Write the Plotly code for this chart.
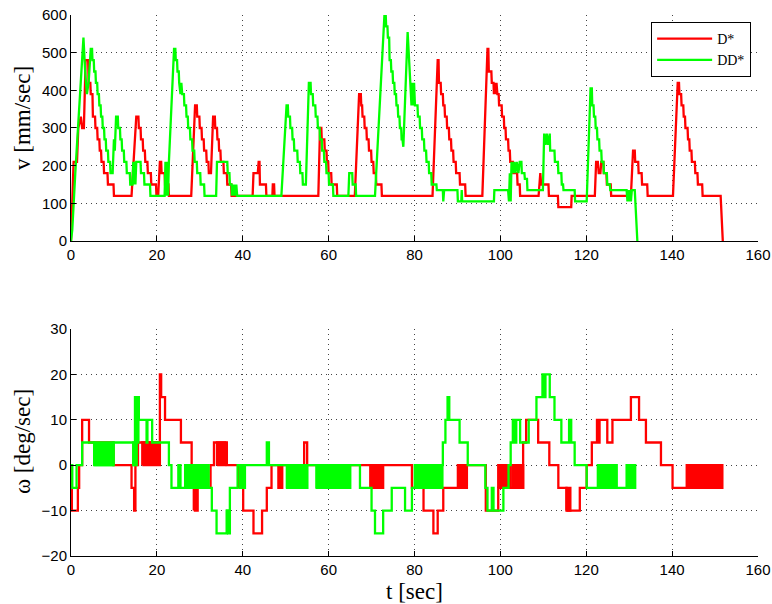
import plotly.graph_objects as go

# ---------------- data ----------------
X_TICKS = [0, 20, 40, 60, 80, 100, 120, 140, 160]
V_TICKS = [0, 100, 200, 300, 400, 500, 600]
W_TICKS = [-20, -10, 0, 10, 20, 30]

# v [mm/sec] for D*  (t, v)
D_SPEED = [
    (0, 0), (0.6, 210), (1.4, 210), (1.7, 300), (2.3, 330), (2.6, 300), (3.0, 300), (3.4, 480), (4.0, 480),
    (4.1, 420), (4.5, 420), (4.6, 390), (5.0, 390), (5.1, 330), (5.6, 330), (5.7, 300), (6.1, 300), (6.2, 270),
    (6.6, 270), (6.7, 240), (7.0, 240), (7.1, 210), (7.6, 210), (7.7, 180), (8.5, 180), (8.6, 150), (9.9, 150),
    (10.0, 120), (14.1, 120), (15.2, 330), (15.7, 330), (15.8, 300), (16.2, 300), (16.3, 270), (16.7, 270),
    (16.8, 240), (17.2, 240), (17.3, 210), (17.8, 210), (17.9, 180), (18.6, 180), (18.7, 150), (19.8, 150),
    (19.9, 120), (20.3, 120), (20.7, 210), (21.0, 210), (21.1, 180), (21.8, 180), (21.9, 150), (22.7, 150),
    (22.8, 120), (28.0, 120), (28.9, 360), (29.3, 360), (29.4, 330), (29.9, 330), (30.0, 300), (30.4, 300),
    (30.5, 270), (30.9, 270), (31.0, 240), (31.5, 240), (31.6, 210), (32.0, 210), (32.1, 180), (32.6, 180),
    (33.1, 330), (33.5, 330), (33.6, 300), (34.0, 300), (34.1, 270), (34.4, 270), (34.5, 240), (34.8, 240),
    (34.9, 210), (35.5, 210), (35.6, 180), (36.3, 180), (36.4, 150), (37.3, 150), (37.4, 120),
    (42.3, 120), (42.5, 180), (43.5, 180), (43.7, 210), (43.9, 210), (44.0, 150), (45.4, 150), (45.5, 120),
    (46.9, 120), (47.0, 150), (47.3, 150), (47.4, 120),
    (57.6, 120), (58.0, 300), (58.3, 300), (58.4, 270), (59.0, 270), (59.1, 240), (59.5, 240), (59.6, 210),
    (59.9, 210), (60.0, 180), (60.6, 180), (60.7, 150), (61.9, 150), (62.0, 120),
    (66.1, 120), (67.1, 390), (67.5, 390), (67.6, 360), (67.8, 360), (67.9, 330), (68.3, 330), (68.4, 300),
    (68.8, 300), (68.9, 270), (69.3, 270), (69.4, 240), (69.9, 240), (70.0, 210), (70.4, 210), (70.5, 180),
    (71.0, 180), (71.1, 150), (72.3, 150), (72.4, 120),
    (84.2, 120), (85.4, 480), (85.6, 480), (85.7, 420), (86.1, 420), (86.2, 390), (86.6, 390), (86.7, 360),
    (87.0, 360), (87.1, 330), (87.5, 330), (87.6, 300), (88.0, 300), (88.1, 270), (88.5, 270), (88.6, 240),
    (89.0, 240), (89.1, 210), (89.6, 210), (89.7, 180), (90.5, 180), (90.6, 150), (91.8, 150), (91.9, 120),
    (95.8, 120), (97.0, 510), (97.2, 510), (97.3, 450), (97.9, 450), (98.0, 420), (98.4, 420), (98.5, 390),
    (98.7, 420), (98.9, 390), (99.1, 420), (99.3, 390), (99.6, 390), (99.7, 360), (100.3, 360), (100.4, 330),
    (100.8, 330), (100.9, 300), (101.2, 300), (101.3, 270), (101.8, 270), (101.9, 240), (102.2, 240),
    (102.3, 210), (102.9, 210), (103.0, 180), (103.9, 180), (104.0, 150), (104.5, 150), (104.6, 120),
    (108.9, 120), (109.1, 150), (109.3, 180), (109.5, 150), (111.2, 150), (111.3, 120), (113.4, 120),
    (113.5, 90), (116.5, 90), (116.6, 120),
    (122.0, 120), (122.3, 210), (122.7, 210), (122.9, 180), (123.3, 180), (123.5, 210), (124.0, 210),
    (124.1, 180), (124.7, 180), (124.8, 150), (125.7, 150), (125.8, 120),
    (130.4, 120), (130.9, 240), (131.3, 240), (131.4, 210), (132.1, 210), (132.2, 180), (132.9, 180),
    (133.0, 150), (134.2, 150), (134.3, 120),
    (140.2, 120), (141.3, 420), (141.6, 420), (141.7, 390), (142.1, 390), (142.2, 360), (142.6, 360),
    (142.7, 330), (143.0, 330), (143.1, 300), (143.6, 300), (143.7, 270), (144.0, 270), (144.1, 240),
    (144.5, 240), (144.6, 210), (145.3, 210), (145.4, 180), (145.9, 180), (146.0, 150), (147.0, 150),
    (147.1, 120), (151.3, 120), (151.8, 0),
]

# v [mm/sec] for DD*  (t, v)
DD_SPEED = [
    (0, 0), (0.3, 30), (1.0, 180), (1.5, 270), (2.0, 360), (2.5, 450), (2.9, 540), (3.3, 450), (3.7, 390),
    (4.1, 420), (4.6, 510), (4.9, 510), (5.0, 480), (5.3, 480), (5.4, 450), (5.7, 450), (5.8, 420), (6.1, 420),
    (6.2, 390), (6.5, 390), (6.6, 360), (6.9, 360), (7.0, 330), (7.3, 330), (7.4, 300), (7.7, 300), (7.8, 270),
    (8.1, 270), (8.2, 240), (8.6, 240), (8.7, 210), (9.1, 210), (9.2, 180), (9.7, 180), (10.0, 270), (10.2, 240),
    (10.5, 330), (10.9, 330), (11.0, 300), (11.4, 300), (11.5, 270), (11.8, 270), (11.9, 240), (12.3, 240),
    (12.4, 210), (12.9, 210), (13.0, 180), (13.7, 180), (13.8, 150), (14.3, 150), (14.5, 210), (14.7, 150),
    (14.9, 210), (15.0, 150), (15.2, 210), (16.2, 210), (16.3, 180), (17.0, 180), (17.1, 150), (18.4, 150),
    (18.5, 120), (21.8, 120), (22.0, 210), (22.2, 120), (22.4, 210), (22.6, 120), (22.8, 210), (24.0, 510),
    (24.3, 510), (24.4, 480), (24.7, 480), (24.8, 450), (25.1, 450), (25.2, 420), (25.5, 390), (25.7, 420),
    (25.9, 390), (26.3, 390), (26.4, 360), (26.8, 360), (26.9, 330), (27.2, 330), (27.3, 300), (27.7, 300),
    (27.8, 270), (28.2, 270), (28.3, 240), (28.7, 240), (28.8, 210), (29.3, 210), (29.4, 180), (30.1, 180),
    (30.2, 150), (31.0, 150), (31.1, 120), (33.8, 120), (34.0, 210), (36.4, 210), (36.5, 180), (36.9, 180),
    (37.0, 150), (37.4, 150), (37.5, 120), (37.7, 150), (37.9, 120), (38.1, 150), (38.3, 120), (38.5, 150),
    (38.7, 120), (49.0, 120), (50.2, 360), (50.5, 360), (50.6, 330), (51.0, 330), (51.1, 300), (51.5, 300),
    (51.6, 270), (51.9, 270), (52.0, 240), (52.7, 240), (52.8, 210), (53.3, 210), (53.4, 180), (53.9, 180),
    (54.0, 150), (54.7, 150), (55.4, 420), (55.8, 420), (55.9, 390), (56.3, 390), (56.4, 360), (56.9, 360),
    (57.0, 330), (57.4, 330), (57.5, 300), (57.9, 300), (58.0, 270), (58.4, 270), (58.5, 240), (58.9, 240),
    (59.0, 210), (59.4, 210), (59.5, 180), (60.0, 180), (60.1, 150), (61.0, 150), (61.1, 120), (64.6, 120),
    (64.8, 180), (65.5, 180), (65.6, 150), (66.3, 150), (66.4, 120), (70.8, 120), (73.0, 600), (73.3, 600),
    (73.4, 570), (73.7, 570), (73.8, 540), (74.1, 540), (74.2, 480), (74.5, 480), (74.6, 450), (74.9, 450),
    (75.0, 420), (75.3, 420), (75.4, 390), (75.7, 390), (75.8, 360), (76.1, 360), (76.2, 330), (76.5, 330),
    (76.6, 300), (76.9, 300), (77.0, 270), (77.2, 270), (77.4, 250), (78.4, 555), (78.6, 510), (78.9, 480),
    (79.1, 420), (79.3, 360), (79.5, 420), (79.7, 360), (79.9, 420), (80.1, 360), (80.7, 360), (80.8, 330),
    (81.2, 330), (81.3, 300), (81.7, 300), (81.8, 270), (82.2, 270), (82.3, 240), (82.7, 240), (82.8, 210),
    (83.3, 210), (83.4, 180), (83.9, 180), (84.0, 150), (85.1, 150), (85.2, 135), (86.6, 135), (86.7, 105),
    (86.9, 135), (90.0, 135), (90.1, 105), (90.9, 105), (91.0, 135), (91.1, 105), (98.5, 105), (98.6, 135),
    (101.8, 135), (102.0, 105), (102.2, 180), (102.4, 105), (102.6, 210), (102.9, 180), (103.2, 210),
    (103.5, 180), (103.8, 210), (104.2, 180), (104.5, 210), (104.9, 210), (105.0, 180), (105.6, 180),
    (105.7, 165), (106.2, 165), (106.3, 135), (109.9, 135), (110.2, 285), (110.5, 255), (110.8, 285),
    (111.1, 255), (111.5, 285), (111.6, 240), (112.6, 240), (112.7, 210), (113.4, 210), (113.5, 180),
    (114.2, 180), (114.3, 150), (114.6, 150), (114.7, 135), (117.3, 135), (117.4, 105), (120.1, 105),
    (121.0, 405), (121.3, 405), (121.4, 360), (121.7, 360), (121.8, 330), (122.1, 330), (122.2, 300),
    (122.5, 300), (122.6, 270), (123.0, 270), (123.1, 240), (123.5, 240), (123.6, 210), (124.0, 210),
    (124.1, 180), (124.8, 180), (124.9, 150), (125.5, 150), (125.6, 135), (129.4, 135), (129.6, 105),
    (129.8, 135), (130.0, 105), (130.2, 135), (130.4, 105), (130.6, 135), (131.3, 135), (131.9, 0),
]

# omega [deg/sec] for D*: step change points (t, value)
D_OMEGA = [
    (0, 0), (0.2, -10), (1.6, -5), (1.9, 0), (2.6, 10), (4.2, 5), (9.9, 0), (14.1, -5), (14.7, -10),
    (15.0, 0), (15.6, 5), (20.7, 20), (21.0, 15), (21.9, 10), (25.6, 5), (28.1, -5), (32.5, 0), (33.3, 5),
    (36.3, 0), (40.1, -10), (42.5, -15), (44.5, -10), (45.6, -5), (46.7, 0), (48.3, -5), (48.5, 0),
    (49.0, -5), (49.2, 0), (54.3, 5), (55.0, 0), (79.4, -5), (82.1, -10), (84.4, -15), (85.4, -10),
    (86.7, -5), (92.2, 0), (96.6, -10), (99.5, -5), (105.3, 5), (106.0, 10), (108.8, 5), (111.4, 0),
    (113.5, -5), (115.4, -10), (118.5, -5), (120.1, 0), (121.3, 5), (122.5, 10), (122.8, 5), (123.1, 10),
    (124.9, 5), (126.1, 10), (130.4, 15), (132.3, 10), (133.9, 5), (137.4, 0), (140.1, -5), (151.7, -5),
]
# dense chattering intervals of D*: (t_start, t_end, low, high)
D_OMEGA_BANDS = [
    (16.6, 20.7, 0, 5), (28.6, 29.5, -10, -5), (34.0, 35.9, 0, 5), (39.0, 39.8, -5, 0),
    (69.7, 72.7, -5, 0), (90.1, 92.2, -5, 0), (99.5, 102.4, -5, 0), (102.8, 105.3, -5, 0),
    (115.4, 116.3, -10, -5), (143.4, 146.0, -5, 0), (146.3, 147.5, -5, 0), (147.8, 151.7, -5, 0),
]

# omega [deg/sec] for DD*: step change points (t, value)
DD_OMEGA = [
    (0, 0), (0.3, -5), (1.3, 0), (2.6, 5), (5.4, 0), (9.9, 5), (14.5, 0), (14.9, 15), (15.8, 10),
    (17.6, 5), (17.8, 10), (18.9, 5), (22.8, 0), (23.4, -5), (25.0, 0), (25.5, -5), (26.6, 0), (32.0, -5),
    (32.8, -10), (33.9, -15), (36.3, -10), (37.0, -5), (38.8, 0), (39.4, -5), (40.5, 0), (45.6, 5),
    (46.1, 0), (50.3, -5), (55.0, 0), (57.2, -5), (65.0, 0), (67.3, -5), (70.0, -10), (70.8, -15),
    (72.7, -10), (74.7, -5), (77.8, -10), (79.4, -5), (80.1, 0), (86.6, 5), (87.2, 10), (87.7, 15),
    (88.1, 10), (90.5, 5), (92.4, 0), (96.5, -5), (97.0, -10), (98.0, -5), (98.4, -10), (100.7, -5),
    (101.9, 0), (102.4, 5), (102.9, 10), (103.3, 5), (103.7, 10), (104.6, 5), (106.6, 10), (108.4, 15),
    (109.8, 20), (110.2, 15), (110.5, 20), (111.5, 15), (112.6, 10), (114.2, 5), (116.0, 10), (116.5, 5),
    (117.3, 0), (120.1, -5), (131.4, -5),
]
DD_OMEGA_BANDS = [
    (5.4, 9.9, 0, 5), (14.5, 15.3, 0, 5), (15.0, 15.7, 5, 15), (26.6, 32.0, -5, 0), (36.3, 37.0, -15, -10),
    (39.4, 40.5, -5, 0), (50.3, 53.0, -5, 0), (53.3, 55.0, -5, 0), (57.2, 62.8, -5, 0), (63.1, 64.0, -5, 0),
    (64.3, 65.0, -5, 0), (80.1, 86.5, -5, 0), (122.7, 127.1, -5, 0), (129.4, 131.4, -5, 0),
]

RED = "#ff0000"
GREEN = "#00ff00"
LW = 2.3
SERIF = "Liberation Serif, Times New Roman, serif"


def xy(pairs):
    return [p[0] for p in pairs], [p[1] for p in pairs]


def band_poly(bands):
    xs, ys = [], []
    for t0, t1, lo, hi in bands:
        xs += [t0, t1, t1, t0, t0, None]
        ys += [lo, lo, hi, hi, lo, None]
    return xs, ys


fig = go.Figure()

tx, vy = xy(D_SPEED)
fig.add_trace(go.Scatter(x=tx, y=vy, mode="lines", name="D*", line=dict(color=RED, width=LW),
                         xaxis="x", yaxis="y"))
tx, vy = xy(DD_SPEED)
fig.add_trace(go.Scatter(x=tx, y=vy, mode="lines", name="DD*", line=dict(color=GREEN, width=LW),
                         xaxis="x", yaxis="y"))

bx, by = band_poly(D_OMEGA_BANDS)
fig.add_trace(go.Scatter(x=bx, y=by, mode="lines", fill="toself", fillcolor=RED, showlegend=False,
                         line=dict(color=RED, width=LW), xaxis="x2", yaxis="y2", hoverinfo="skip"))
tx, wy = xy(D_OMEGA)
fig.add_trace(go.Scatter(x=tx, y=wy, mode="lines", showlegend=False, line=dict(color=RED, width=LW, shape="hv"),
                         xaxis="x2", yaxis="y2"))
bx, by = band_poly(DD_OMEGA_BANDS)
fig.add_trace(go.Scatter(x=bx, y=by, mode="lines", fill="toself", fillcolor=GREEN, showlegend=False,
                         line=dict(color=GREEN, width=LW), xaxis="x2", yaxis="y2", hoverinfo="skip"))
tx, wy = xy(DD_OMEGA)
fig.add_trace(go.Scatter(x=tx, y=wy, mode="lines", showlegend=False, line=dict(color=GREEN, width=LW, shape="hv"),
                         xaxis="x2", yaxis="y2"))

tickfont = dict(family="Liberation Sans, Arial, sans-serif", size=15, color="black")
axis_common = dict(
    showgrid=True, gridcolor="#444", griddash="1px,4px", gridwidth=1,
    showline=True, linecolor="black", linewidth=1, mirror=False,
    ticks="inside", ticklen=5, tickcolor="black", tickwidth=1,
    zeroline=False, tickfont=tickfont, automargin=False,
)

fig.update_layout(
    width=772, height=604,
    margin=dict(l=71, r=14, t=15, b=48, autoexpand=False),
    paper_bgcolor="white", plot_bgcolor="white",
    xaxis=dict(domain=[0, 1], anchor="y", range=[0, 160], tickvals=X_TICKS, **axis_common),
    yaxis=dict(domain=[0.5823, 1], anchor="x", range=[0, 600], tickvals=V_TICKS, **axis_common),
    xaxis2=dict(domain=[0, 1], anchor="y2", range=[0, 160], tickvals=X_TICKS, **axis_common),
    yaxis2=dict(domain=[0, 0.4196], anchor="x2", range=[-20, 30], tickvals=W_TICKS, **axis_common),
    legend=dict(x=0.99, y=0.987, xanchor="right", yanchor="top", bgcolor="white",
                bordercolor="black", borderwidth=1,
                font=dict(family=SERIF, size=14, color="black"),
                tracegroupgap=0, itemwidth=55),
    showlegend=True,
    annotations=[
        dict(text="v [mm/sec]", xref="paper", yref="paper", x=-0.0713, y=0.8096, textangle=-90,
             showarrow=False, xanchor="center", yanchor="middle",
             font=dict(family=SERIF, size=23, color="black")),
        dict(text="ω [deg/sec]", xref="paper", yref="paper", x=-0.0713, y=0.2107, textangle=-90,
             showarrow=False, xanchor="center", yanchor="middle",
             font=dict(family=SERIF, size=23, color="black")),
        dict(text="t [sec]", xref="paper", yref="paper", x=0.5, y=-0.0647,
             showarrow=False, xanchor="center", yanchor="middle",
             font=dict(family=SERIF, size=23, color="black")),
    ],
)

fig.write_html("out.html", config={"displayModeBar": False},
               post_script="document.body.style.margin='0';document.body.style.overflow='hidden';")
